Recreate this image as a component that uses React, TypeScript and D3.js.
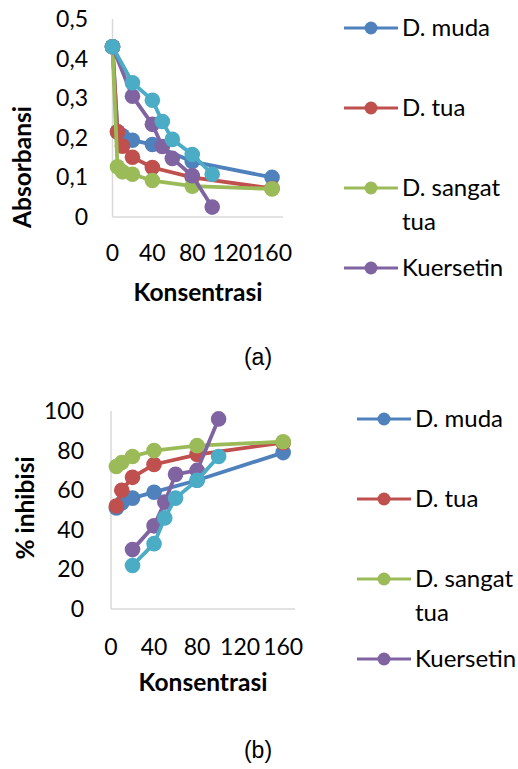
import React from 'react';
import * as d3 from 'd3';

// series names and colours (Excel 2007 palette)
const seriesNames = ['D. muda', 'D. tua', 'D. sangat tua', 'Kuersetin', 'Seri 5'];
const seriesColors = ['#4F81BD', '#C0504D', '#9BBB59', '#8064A2', '#4BACC6'];

// (a) absorbance vs concentration
const absX = [
  [0, 5, 10, 20, 40, 80, 160],
  [0, 5, 10, 20, 40, 80, 160],
  [0, 5, 10, 20, 40, 80, 160],
  [0, 20, 40, 50, 60, 80, 100],
  [0, 20, 40, 50, 60, 80, 100],
];
const absY = [
  [0.43, 0.215, 0.205, 0.194, 0.183, 0.14, 0.1],
  [0.43, 0.215, 0.179, 0.151, 0.125, 0.1, 0.072],
  [0.43, 0.127, 0.114, 0.108, 0.092, 0.078, 0.071],
  [0.43, 0.305, 0.234, 0.178, 0.148, 0.104, 0.025],
  [0.43, 0.339, 0.295, 0.241, 0.196, 0.158, 0.108],
];

// (b) % inhibition vs concentration
const inhX = [
  [5, 10, 20, 40, 80, 160],
  [5, 10, 20, 40, 80, 160],
  [5, 10, 20, 40, 80, 160],
  [20, 40, 50, 60, 80, 100],
  [20, 40, 50, 60, 80, 100],
];
const inhY = [
  [51, 53.5, 56, 59, 65, 79],
  [52, 60, 66.5, 73, 78, 84],
  [72, 74, 77, 80, 82.5, 84.5],
  [30, 42, 54, 68, 70, 96],
  [22, 33, 46, 56, 65, 77],
];

const xTicks = [0, 40, 80, 120, 160];
const absTicks = [0, 0.1, 0.2, 0.3, 0.4, 0.5];
const inhTicks = [0, 20, 40, 60, 80, 100];

const FONT = 'Lato, "Open Sans", sans-serif';

function Chart({ xs, ys, xRange, yRange, yDomain, yTicks, yFmt, yLabelX, xLabelY,
  yTitle, yTitleX, yTitleY, xTitleX, xTitleY, legendX, legendY }) {
  const x = d3.scaleLinear().domain([0, 171]).range(xRange);
  const y = d3.scaleLinear().domain(yDomain).range(yRange);
  const line = d3.line<number[]>().x(d => x(d[0])).y(d => y(d[1]));
  const legendStep = 80;

  return (
    <g>
      {/* axes */}
      <line x1={x(0)} x2={x(0)} y1={y(yDomain[1])} y2={y(0)} stroke="#d9d9d9" strokeWidth={1.5} />
      <line x1={x(0)} x2={xRange[1]} y1={y(0)} y2={y(0)} stroke="#d9d9d9" strokeWidth={1.5} />
      {yTicks.map(t => (
        <text key={t} x={yLabelX} y={y(t)} dy="0.35em" textAnchor="end" fontSize={23} fontFamily={FONT}>
          {yFmt(t)}
        </text>
      ))}
      {xTicks.map(t => (
        <text key={t} x={x(t)} y={xLabelY} textAnchor="middle" fontSize={23} fontFamily={FONT}>
          {t}
        </text>
      ))}
      <text x={xTitleX} y={xTitleY} textAnchor="middle" fontSize={24.5} fontWeight="bold" fontFamily={FONT}>
        Konsentrasi
      </text>
      <text transform={`translate(${yTitleX},${yTitleY}) rotate(-90)`} textAnchor="middle" dy="0.35em"
        fontSize={24.5} fontWeight="bold" fontFamily={FONT}>
        {yTitle}
      </text>

      {/* series */}
      {xs.map((sx, i) => {
        const pts = sx.map((v, j) => [v, ys[i][j]]);
        return (
          <g key={i}>
            <path d={line(pts) || ''} fill="none" stroke={seriesColors[i]} strokeWidth={3.8} />
            {pts.map((p, j) => (
              <circle key={j} cx={x(p[0])} cy={y(p[1])} r={7.8} fill={seriesColors[i]} />
            ))}
          </g>
        );
      })}

      {/* legend (first four series) */}
      {seriesNames.slice(0, 4).map((name, i) => {
        const ly = legendY + i * legendStep;
        const words = name === 'D. sangat tua' ? ['D. sangat', 'tua'] : [name];
        return (
          <g key={name}>
            <line x1={legendX} x2={legendX + 54} y1={ly} y2={ly} stroke={seriesColors[i]} strokeWidth={3} />
            <circle cx={legendX + 27} cy={ly} r={6.5} fill={seriesColors[i]} />
            {words.map((w, k) => (
              <text key={k} x={legendX + 58} y={ly + k * 34} dy="0.35em" fontSize={24} fontFamily={FONT}>
                {w}
              </text>
            ))}
          </g>
        );
      })}
    </g>
  );
}

export default function App() {
  const fmtComma = (v: number) => (v === 0 ? '0' : d3.format('.1f')(v).replace('.', ','));
  return (
    <svg width={518} height={769} style={{ position: 'absolute', left: 0, top: 0, background: '#fff' }}>
      <rect width={518} height={769} fill="#fff" />
      <Chart xs={absX} ys={absY} xRange={[112.5, 283]} yRange={[217, 19]} yDomain={[0, 0.5]}
        yTicks={absTicks} yFmt={fmtComma} yLabelX={88} xLabelY={261}
        yTitle="Absorbansi" yTitleX={22} yTitleY={167} xTitleX={198} xTitleY={301}
        legendX={344} legendY={28} />
      <text x={258} y={357} dy="0.35em" textAnchor="middle" fontSize={23}
        fontFamily='"Liberation Sans", Arial, sans-serif'>(a)</text>

      <Chart xs={inhX} ys={inhY} xRange={[111, 295]} yRange={[609, 411]} yDomain={[0, 100]}
        yTicks={inhTicks} yFmt={(v: number) => String(v)} yLabelX={84} xLabelY={655}
        yTitle="% inhibisi" yTitleX={25} yTitleY={508} xTitleX={203} xTitleY={691}
        legendX={357} legendY={419} />
      <text x={258} y={750} dy="0.35em" textAnchor="middle" fontSize={23}
        fontFamily='"Liberation Sans", Arial, sans-serif'>(b)</text>
    </svg>
  );
}
